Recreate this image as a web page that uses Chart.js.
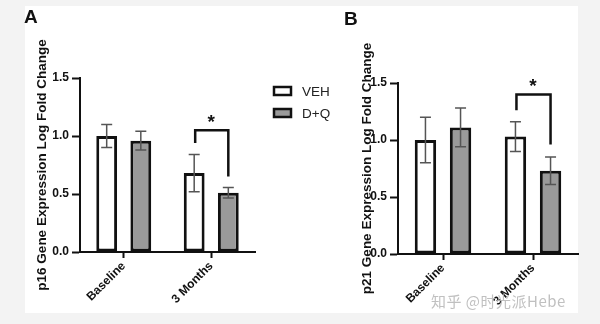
<!DOCTYPE html>
<html>
<head>
<meta charset="utf-8">
<script src="https://cdn.jsdelivr.net/npm/chart.js@4"></script>
<style>
  html, body { margin: 0; padding: 0; background: #f3f3f3; }
  #stage { position: relative; width: 600px; height: 324px; overflow: hidden; }
  #paper { position: absolute; left: 25px; top: 6px; width: 553px; height: 307px; background: #fff; }
  canvas { position: absolute; top: 0; }
  #chartA { left: 0; }
  #chartB { left: 340px; }
  .panel { position: absolute; font: bold 19px "Liberation Sans", Arial, sans-serif; color: #111; }
  #mark { position: absolute; left: 431px; top: 290px; font: 15px "Noto Sans CJK SC", "Liberation Sans", sans-serif;
          color: rgba(185, 185, 185, 0.9); letter-spacing: 0.5px; }
</style>
</head>
<body>
<div id="stage">
  <div id="paper"></div>
  <canvas id="chartA" width="340" height="324"></canvas>
  <canvas id="chartB" width="260" height="324"></canvas>
  <div class="panel" style="left:24px; top:6px;">A</div>
  <div class="panel" style="left:344px; top:8px;">B</div>
  <div id="mark">知乎 @时光派Hebe</div>
</div>
<script>
// Data
const categories = ["Baseline", "3 Months"];
const seriesNames = ["VEH", "D+Q"];
const yTicks = [0, 0.5, 1.0, 1.5];

// p16 panel (A)
const p16Veh = [1.0, 0.68];
const p16VehErr = [0.1, 0.16];
const p16Dq = [0.96, 0.51];
const p16DqErr = [0.08, 0.045];
const p16Bracket = [0.94, 1.05, 0.65]; // left foot, top, right foot
const p16Star = 1.15;

// p21 panel (B)
const p21Veh = [1.0, 1.03];
const p21VehErr = [0.2, 0.13];
const p21Dq = [1.11, 0.73];
const p21DqErr = [0.17, 0.12];
const p21Bracket = [1.26, 1.40, 0.96];
const p21Star = 1.5;

const FONT = "'Liberation Sans', Arial, sans-serif";
const GRAY = "#9a9a9a";

// error bars + significance bracket
const extrasPlugin = {
  id: "extras",
  afterDatasetsDraw(chart, args, opts) {
    const ctx = chart.ctx;
    const y = chart.scales.y;
    ctx.save();
    chart.data.datasets.forEach((ds, i) => {
      const meta = chart.getDatasetMeta(i);
      meta.data.forEach((bar, j) => {
        const v = ds.data[j], e = ds.errors[j];
        const top = y.getPixelForValue(v + e);
        const bot = y.getPixelForValue(v - e);
        ctx.strokeStyle = "#555";
        ctx.lineWidth = 1.5;
        ctx.beginPath();
        ctx.moveTo(bar.x, top); ctx.lineTo(bar.x, bot);
        ctx.moveTo(bar.x - 5.5, top); ctx.lineTo(bar.x + 5.5, top);
        ctx.moveTo(bar.x - 5.5, bot); ctx.lineTo(bar.x + 5.5, bot);
        ctx.stroke();
      });
    });
    // bracket between the two 3 Months bars
    const b1 = chart.getDatasetMeta(0).data[1];
    const b2 = chart.getDatasetMeta(1).data[1];
    const br = opts.bracket;
    ctx.strokeStyle = "#111";
    ctx.lineWidth = 2.5;
    ctx.lineJoin = "miter";
    ctx.beginPath();
    ctx.moveTo(b1.x + 1, y.getPixelForValue(br[0]));
    ctx.lineTo(b1.x + 1, y.getPixelForValue(br[1]));
    ctx.lineTo(b2.x, y.getPixelForValue(br[1]));
    ctx.lineTo(b2.x, y.getPixelForValue(br[2]));
    ctx.stroke();
    ctx.fillStyle = "#111";
    ctx.font = "bold 19px " + FONT;
    ctx.textAlign = "center";
    ctx.textBaseline = "middle";
    ctx.fillText("*", (b1.x + b2.x) / 2, y.getPixelForValue(opts.star) + 4);
    ctx.restore();
  }
};

// legend drawn next to panel A
const legendPlugin = {
  id: "sideLegend",
  afterDraw(chart, args, opts) {
    if (!opts.show) return;
    const ctx = chart.ctx;
    ctx.save();
    chart.data.datasets.forEach((ds, i) => {
      const cy = 91 + i * 22;
      ctx.fillStyle = ds.backgroundColor;
      ctx.fillRect(274, cy - 4, 17, 8);
      ctx.strokeStyle = "#111";
      ctx.lineWidth = 2.5;
      ctx.strokeRect(274, cy - 4, 17, 8);
      ctx.fillStyle = "#222";
      ctx.font = "13.5px " + FONT;
      ctx.textAlign = "left";
      ctx.textBaseline = "middle";
      ctx.fillText(ds.label, 302, cy + 1);
    });
    ctx.restore();
  }
};

function makeChart(id, veh, vehErr, dq, dqErr, title, pad, yWidth, xHeight, bracket, star, showLegend) {
  return new Chart(document.getElementById(id), {
    type: "bar",
    data: {
      labels: categories,
      datasets: [
        { label: seriesNames[0], data: veh, errors: vehErr, backgroundColor: "#ffffff",
          borderColor: "#111", borderWidth: 3, borderSkipped: false },
        { label: seriesNames[1], data: dq, errors: dqErr, backgroundColor: GRAY,
          borderColor: "#111", borderWidth: 3, borderSkipped: false }
      ]
    },
    options: {
      responsive: false,
      animation: false,
      categoryPercentage: 0.78,
      barPercentage: 0.61,
      layout: { padding: pad },
      plugins: {
        legend: { display: false },
        tooltip: { enabled: false },
        extras: { bracket: bracket, star: star },
        sideLegend: { show: showLegend }
      },
      scales: {
        x: {
          grid: { display: true, offset: false, drawOnChartArea: false, tickLength: 6, tickWidth: 2, tickColor: "#111" },
          border: { color: "#111", width: 2 },
          ticks: { color: "#111", font: { family: FONT, size: 12, weight: "bold" },
                   minRotation: 45, maxRotation: 45, padding: 1 },
          afterFit(s) { s.height = xHeight; }
        },
        y: {
          min: 0, max: 1.5,
          afterBuildTicks(s) { s.ticks = yTicks.map(v => ({ value: v })); },
          grid: { display: true, drawOnChartArea: false, tickLength: 8, tickWidth: 2, tickColor: "#111" },
          border: { color: "#111", width: 2 },
          ticks: { color: "#111", font: { family: FONT, size: 12, weight: "bold" }, padding: 3,
                   callback: v => v.toFixed(1) },
          title: { display: true, text: title, color: "#111",
                   font: { family: FONT, size: 13.5, weight: "bold" }, padding: { top: 4, bottom: 0 } },
          afterFit(s) { s.width = yWidth; }
        }
      }
    },
    plugins: [extrasPlugin, legendPlugin]
  });
}

makeChart("chartA", p16Veh, p16VehErr, p16Dq, p16DqErr, "p16 Gene Expression Log Fold Change",
  { left: 30, right: 85, top: 78, bottom: 0 }, 50, 72, p16Bracket, p16Star, true);
makeChart("chartB", p21Veh, p21VehErr, p21Dq, p21DqErr, "p21 Gene Expression Log Fold Change",
  { left: 15, right: 22, top: 83, bottom: 0 }, 43, 70, p21Bracket, p21Star, false);
</script>
</body>
</html>
